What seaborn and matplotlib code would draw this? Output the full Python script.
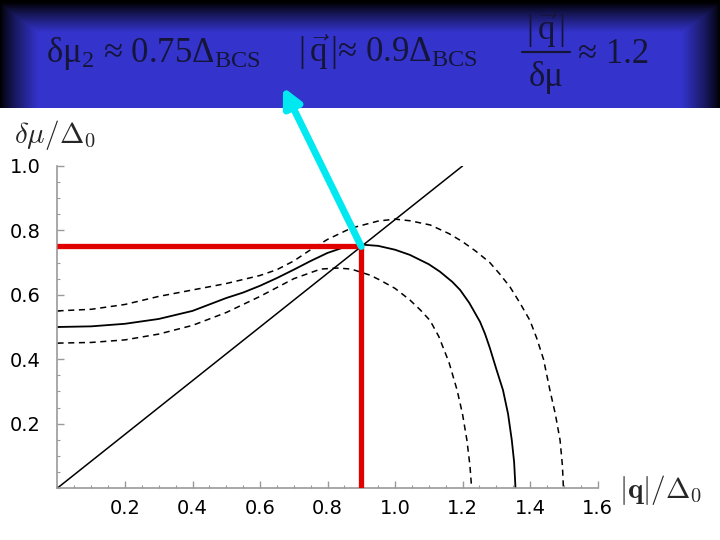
import numpy as np
import pandas as pd
import matplotlib
matplotlib.use("Agg")
import matplotlib.pyplot as plt
import seaborn as sns
from matplotlib.ticker import MultipleLocator

# ---- data ----
x_solid = [0.0, 0.1, 0.2, 0.3, 0.4, 0.5, 0.55, 0.6, 0.65, 0.7, 0.75, 0.8, 0.85, 0.9, 0.95, 1.0,
           1.044, 1.1, 1.133, 1.17, 1.193, 1.22, 1.252, 1.267, 1.281, 1.30, 1.32, 1.335, 1.346, 1.353, 1.357]
y_solid = [0.50, 0.502, 0.51, 0.525, 0.55, 0.59, 0.607, 0.628, 0.652, 0.678, 0.705, 0.73, 0.748, 0.756, 0.752, 0.74,
           0.724, 0.695, 0.672, 0.64, 0.615, 0.575, 0.516, 0.478, 0.435, 0.37, 0.304, 0.23, 0.149, 0.08, 0.0]

x_upper = [0.0, 0.1, 0.2, 0.3, 0.4, 0.5, 0.6, 0.65, 0.7, 0.75, 0.8, 0.87, 0.95, 1.0, 1.044, 1.104,
           1.16, 1.2, 1.24, 1.281, 1.31, 1.341, 1.37, 1.40, 1.42, 1.44, 1.459, 1.475, 1.489, 1.496, 1.499]
y_upper = [0.55, 0.555, 0.57, 0.595, 0.615, 0.635, 0.66, 0.678, 0.705, 0.74, 0.772, 0.807, 0.829, 0.835, 0.83, 0.817,
           0.79, 0.765, 0.735, 0.70, 0.665, 0.624, 0.575, 0.52, 0.465, 0.40, 0.304, 0.23, 0.149, 0.07, 0.0]

x_lower = [0.0, 0.1, 0.2, 0.3, 0.4, 0.5, 0.6, 0.7, 0.78, 0.83, 0.87, 0.926, 0.955, 1.0, 1.044, 1.075,
           1.104, 1.13, 1.16, 1.184, 1.20, 1.213, 1.222, 1.227]
y_lower = [0.45, 0.452, 0.46, 0.478, 0.505, 0.545, 0.595, 0.65, 0.68, 0.683, 0.68, 0.661, 0.646, 0.62, 0.584, 0.553,
           0.52, 0.47, 0.39, 0.304, 0.23, 0.149, 0.07, 0.0]

x_diag = [0.0, 1.2]
y_diag = [0.0, 1.0]

q_c = 0.9
dmu_c = 0.75

x_ticks = [0.2, 0.4, 0.6, 0.8, 1.0, 1.2, 1.4, 1.6]
y_ticks = [0.2, 0.4, 0.6, 0.8, 1.0]

sns.set_style("ticks")
plt.rcParams['font.family'] = ['DejaVu Sans']
plt.rcParams['mathtext.fontset'] = 'custom'
plt.rcParams['mathtext.rm'] = 'Liberation Serif'
plt.rcParams['mathtext.it'] = 'Liberation Serif:italic'
plt.rcParams['mathtext.bf'] = 'Liberation Serif:bold'

W, H = 720, 540
fig = plt.figure(figsize=(7.2, 5.4), dpi=100)
fig.patch.set_facecolor("white")

# ---- header band with vignette ----
hh = 108
hax = fig.add_axes([0, 1 - hh / H, 1, hh / H])
xs = np.arange(W)
ys = np.arange(hh)
fx = np.clip(np.minimum(xs, W - 1 - xs) / 38.0, 0, 1) ** 0.8
fy = np.clip((ys - 2) / 30.0, 0, 1) ** 0.9
fac = np.minimum(fy[:, None], fx[None, :])
base = np.array([52, 52, 205]) / 255.0
img = fac[:, :, None] * base[None, None, :]
hax.imshow(img, aspect="auto", extent=[0, W, hh, 0], interpolation="bilinear")
hax.set_xlim(0, W)
hax.set_ylim(hh, 0)
hax.axis("off")

tc = "#15153a"
hfont = dict(fontsize=25, color=tc, family="Liberation Serif", math_fontfamily="custom")
hax.text(46, 62, r"δμ$_{\mathdefault{2}}$ ≈ 0.75Δ$_{\mathdefault{BCS}}$", va="baseline", ha="left", **hfont)
hax.text(298, 62, r"$|\,\vec{\mathdefault{q}}\,|$≈ 0.9Δ$_{\mathdefault{BCS}}$", va="baseline", ha="left", **hfont)
hax.text(546, 40, r"$|\,\vec{\mathdefault{q}}\,|$", va="baseline", ha="center", **hfont)
hax.plot([522, 570], [52, 52], color=tc, lw=1.6)
hax.text(546, 86, "δμ", va="baseline", ha="center", **hfont)
hax.text(578, 63, "≈ 1.2", va="baseline", ha="left", **hfont)

# ---- main axes ----
x0, y0 = 57.5, 488
xw = 1.6 * 337.5
yh = 322
ax = fig.add_axes([x0 / W, (H - y0) / H, xw / W, yh / H])
ax.patch.set_alpha(0)

df_s = pd.DataFrame({"x": x_solid, "y": y_solid})
df_u = pd.DataFrame({"x": x_upper, "y": y_upper})
df_l = pd.DataFrame({"x": x_lower, "y": y_lower})
df_d = pd.DataFrame({"x": x_diag, "y": y_diag})

sns.lineplot(data=df_d, x="x", y="y", ax=ax, color="black", lw=1.1, sort=False, estimator=None)
sns.lineplot(data=df_s, x="x", y="y", ax=ax, color="black", lw=1.3, sort=False, estimator=None)
sns.lineplot(data=df_u, x="x", y="y", ax=ax, color="black", lw=1.1, sort=False, estimator=None)
ax.lines[-1].set_dashes([4, 3])
sns.lineplot(data=df_l, x="x", y="y", ax=ax, color="black", lw=1.1, sort=False, estimator=None)
ax.lines[-1].set_dashes([4, 3])
for ln in ax.lines:
    ln.set_solid_joinstyle("round")
    ln.set_dash_joinstyle("round")

ax.plot([0, q_c], [dmu_c, dmu_c], color="#e00000", lw=3.8, solid_capstyle="butt", zorder=5)
ax.plot([q_c, q_c], [0, dmu_c], color="#e00000", lw=3.8, solid_capstyle="butt", zorder=5)

ax.set_xlim(0, 1.6)
ax.set_ylim(0, 1.0)
ax.set_xticks(x_ticks)
ax.set_yticks(y_ticks)
ax.set_xticklabels([f"{v:.1f}" for v in x_ticks])
ax.set_yticklabels([f"{v:.1f}" for v in y_ticks])
ax.xaxis.set_minor_locator(MultipleLocator(0.05))
ax.yaxis.set_minor_locator(MultipleLocator(0.05))
ax.tick_params(which="major", direction="in", length=5, width=1, color="#999999",
               labelsize=14, labelcolor="black")
ax.tick_params(which="minor", direction="in", length=2.5, width=0.8, color="#999999")
ax.tick_params(axis="x", pad=8)
ax.tick_params(axis="y", pad=12)
for s in ["top", "right"]:
    ax.spines[s].set_visible(False)
for s in ["left", "bottom"]:
    ax.spines[s].set_color("#999999")
    ax.spines[s].set_linewidth(1.2)
ax.set_xlabel("")
ax.set_ylabel("")

fig.text(14 / W, 1 - 135 / H, r"$\delta\mu/\Delta_0$", fontsize=21, va="center", ha="left",
         math_fontfamily="cm")
fig.text(619 / W, 1 - 490 / H, r"$|\mathbf{q}|/\Delta_0$", fontsize=21, va="center", ha="left",
         math_fontfamily="cm")

ax.annotate("", xy=(283, H - 87), xycoords="figure pixels",
            xytext=(q_c, dmu_c), textcoords="data",
            arrowprops=dict(arrowstyle="-|>,head_length=1.0,head_width=0.5", color="#00e8f0",
                            lw=5, mutation_scale=11, shrinkA=0, shrinkB=0),
            annotation_clip=False, zorder=10)

fig.savefig("out.png", dpi=100)
